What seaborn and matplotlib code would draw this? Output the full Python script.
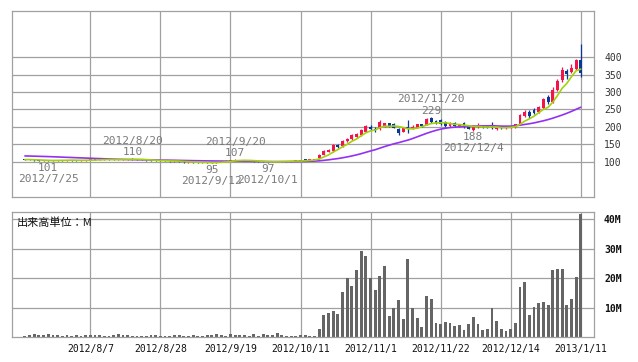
import numpy as np
import pandas as pd
import matplotlib
matplotlib.use("Agg")
import matplotlib.pyplot as plt
import seaborn as sns

# ── Data (trading days 2012/7/18 .. 2013/1/11) ──────────────────────────

OPENS = [
    108, 105, 106, 104, 103, 104, 102, 104, 105, 104,
    105, 104, 103, 104, 105, 106, 105, 106, 107, 106,
    105, 106, 107, 108, 107, 106, 105, 104, 103, 102,
    103, 102, 101, 102, 100, 98, 99, 98, 97, 98,
    97, 96, 99, 101, 103, 104, 105, 104, 103, 102,
    101, 100, 99, 98, 100, 101, 102, 101, 102, 103,
    106, 105, 106, 110, 120, 129, 131, 147, 144, 158,
    165, 170, 176, 186, 201, 195, 193, 203, 210, 209,
    195, 186, 201, 195, 198, 207, 205, 226, 218, 219,
    214, 203, 211, 203, 211, 204, 190, 199, 203, 200,
    201, 193, 201, 197, 199, 200, 208, 232, 243, 249,
    242, 255, 287, 272, 306, 335, 361, 359, 367, 391,
]
HIGHS = [
    109, 107, 107, 105, 105, 105, 105, 106, 106, 106,
    106, 105, 105, 106, 107, 107, 107, 108, 108, 107,
    107, 108, 109, 110, 108, 107, 106, 105, 104, 104,
    104, 103, 103, 103, 101, 100, 100, 99, 99, 99,
    98, 100, 102, 104, 105, 107, 106, 105, 104, 103,
    102, 101, 100, 101, 102, 103, 103, 103, 104, 104,
    108, 107, 108, 122, 134, 137, 150, 150, 163, 168,
    180, 183, 193, 206, 206, 199, 221, 212, 211, 212,
    196, 199, 220, 204, 209, 208, 226, 229, 220, 222,
    216, 215, 213, 209, 213, 205, 204, 210, 205, 202,
    214, 202, 203, 201, 203, 209, 236, 248, 249, 253,
    259, 283, 292, 314, 337, 373, 365, 382, 396, 437,
]
LOWS = [
    104, 104, 103, 102, 102, 101, 102, 103, 103, 103,
    103, 102, 102, 103, 104, 104, 104, 105, 105, 104,
    104, 105, 106, 106, 105, 104, 103, 102, 101, 101,
    101, 100, 100, 99, 97, 97, 97, 96, 96, 96,
    95, 96, 98, 100, 102, 103, 103, 102, 101, 100,
    99, 98, 97, 98, 99, 100, 100, 100, 101, 101,
    104, 104, 105, 109, 118, 127, 129, 140, 142, 156,
    163, 168, 174, 184, 192, 184, 191, 200, 199, 196,
    177, 184, 181, 193, 196, 200, 204, 212, 208, 206,
    200, 201, 200, 201, 198, 193, 188, 197, 198, 196,
    194, 191, 195, 195, 197, 198, 206, 229, 225, 236,
    240, 251, 266, 268, 303, 330, 339, 356, 363, 344,
]
CLOSES = [
    105, 106, 104, 103, 104, 102, 104, 105, 104, 105,
    104, 103, 104, 105, 106, 105, 106, 107, 106, 105,
    106, 107, 108, 107, 106, 105, 104, 103, 102, 103,
    102, 101, 102, 100, 98, 99, 98, 97, 98, 97,
    96, 99, 101, 103, 104, 105, 104, 103, 102, 101,
    100, 99, 98, 100, 101, 102, 101, 102, 103, 102,
    105, 106, 107, 119, 131, 134, 147, 143, 160, 166,
    177, 180, 190, 202, 194, 190, 213, 211, 201, 198,
    183, 197, 194, 201, 207, 203, 223, 214, 210, 209,
    203, 212, 203, 207, 200, 195, 201, 205, 199, 197,
    196, 200, 196, 199, 201, 207, 233, 243, 232, 239,
    257, 281, 272, 305, 333, 363, 351, 368, 392, 356,
]
MA5 = [
    106.0, 106.0, 105.5, 105.0, 104.4, 103.8, 103.4, 103.6, 103.8, 104.0,
    104.4, 104.2, 104.0, 104.2, 104.4, 104.6, 105.2, 105.8, 106.0, 105.8,
    106.0, 106.2, 106.4, 106.6, 106.8, 106.6, 106.0, 105.0, 104.0, 103.4,
    102.8, 102.2, 102.0, 101.6, 100.6, 100.0, 99.4, 98.4, 98.0, 97.8,
    97.2, 97.4, 98.2, 99.2, 100.6, 102.4, 103.4, 103.8, 103.6, 103.0,
    102.0, 101.0, 100.0, 99.6, 99.6, 100.0, 100.4, 101.2, 101.8, 102.0,
    102.6, 103.6, 104.6, 107.8, 113.6, 119.4, 127.6, 134.8, 143.0, 150.0,
    158.6, 165.2, 174.6, 183.0, 188.6, 191.2, 197.8, 202.0, 201.8, 202.6,
    201.2, 198.0, 194.6, 194.6, 196.4, 200.4, 205.6, 209.6, 211.4, 211.8,
    211.8, 209.6, 207.4, 206.8, 205.0, 203.4, 201.2, 201.6, 200.0, 199.4,
    199.6, 199.4, 197.6, 197.6, 198.4, 200.6, 207.2, 216.6, 223.2, 230.8,
    240.8, 250.4, 256.2, 270.8, 289.6, 310.8, 324.8, 344.0, 361.4, 366.0,
]
MA25 = [
    116.5, 116.2, 115.8, 115.4, 115.0, 114.6, 114.1, 113.6, 113.0, 112.5,
    112.0, 111.4, 110.9, 110.4, 109.9, 109.3, 108.8, 108.3, 107.8, 107.3,
    106.9, 106.5, 106.2, 105.9, 105.6, 105.4, 105.2, 105.0, 104.8, 104.6,
    104.4, 104.2, 104.0, 103.7, 103.4, 103.2, 102.9, 102.7, 102.5, 102.3,
    102.1, 101.9, 101.8, 101.6, 101.5, 101.3, 101.2, 101.0, 100.9, 100.8,
    100.6, 100.5, 100.4, 100.3, 100.3, 100.3, 100.3, 100.3, 100.4, 100.6,
    100.8, 101.2, 101.6, 102.4, 103.8, 105.3, 107.2, 108.9, 111.2, 113.6,
    116.5, 119.6, 123.0, 127.0, 130.8, 134.4, 138.9, 143.4, 147.5, 151.4,
    154.6, 158.4, 162.1, 166.5, 171.5, 176.5, 181.5, 186.0, 190.0, 193.5,
    196.0, 198.0, 199.3, 200.2, 200.9, 201.6, 202.4, 203.0, 202.9, 203.0,
    203.3, 202.8, 202.2, 202.1, 202.2, 203.5, 205.0, 207.0, 209.0, 211.5,
    214.5, 217.5, 221.0, 225.0, 229.5, 234.0, 239.0, 244.5, 250.5, 256.5,
]
VOLUME_M = [
    0.4, 0.6, 0.9, 0.6, 0.6, 0.9, 0.6, 0.6, 0.4, 0.6,
    0.4, 0.6, 0.4, 0.6, 0.7, 0.7, 0.7, 0.4, 0.4, 0.6,
    0.9, 0.7, 0.7, 0.4, 0.4, 0.4, 0.4, 0.7, 0.7, 0.4,
    0.4, 0.4, 0.6, 0.6, 0.4, 0.4, 0.6, 0.4, 0.4, 0.6,
    0.6, 0.9, 0.7, 0.4, 1.0, 0.6, 0.6, 0.6, 0.4, 0.9,
    0.4, 0.9, 0.7, 0.7, 1.3, 0.7, 0.4, 0.3, 0.3, 0.7,
    0.7, 0.4, 0.4, 2.7, 7.5, 8.0, 8.8, 7.8, 15.3, 20.0,
    17.3, 22.7, 29.2, 27.5, 20.0, 16.0, 20.8, 24.2, 7.1, 9.9,
    12.6, 6.1, 26.6, 9.9, 6.3, 3.4, 14.0, 12.8, 4.8, 4.4,
    5.1, 4.8, 3.75, 4.1, 2.4, 4.4, 6.8, 4.4, 2.4, 2.7,
    9.9, 5.5, 2.7, 2.0, 2.7, 4.8, 17.0, 18.8, 7.5, 10.2,
    11.6, 11.9, 10.9, 22.8, 23.2, 23.2, 10.9, 13.0, 20.5, 41.7,
]

TICK_POS = [14, 29, 44, 59, 74, 89, 104, 119]
TICK_LABELS = ["2012/8/7", "2012/8/28", "2012/9/19", "2012/10/11",
               "2012/11/1", "2012/11/22", "2012/12/14", "2013/1/11"]
PRICE_TICKS = [100, 150, 200, 250, 300, 350, 400]
VOL_TICKS = [10, 20, 30, 40]
VOL_TICK_LABELS = ["10M", "20M", "30M", "40M"]

# swing highs / lows printed on the chart
PIVOT_IDX = [5, 23, 40, 45, 52, 87, 96]
PIVOT_PRICE = [101, 110, 95, 107, 97, 229, 188]
PIVOT_DATE = ["2012/7/25", "2012/8/20", "2012/9/12", "2012/9/20",
              "2012/10/1", "2012/11/20", "2012/12/4"]
PIVOT_IS_HIGH = [False, True, False, True, False, True, False]

UP_COLOR = "#f5134b"
DOWN_COLOR = "#0a3796"
MA5_COLOR = "#a2d20a"
MA25_COLOR = "#9430f5"
VOL_COLOR = "#656565"
GRID_COLOR = "#a0a0a0"
LABEL_COLOR = "#7a7a7a"
MONO = "DejaVu Sans Mono"


def style_axes(ax):
    ax.set_axisbelow(True)
    ax.grid(True, color=GRID_COLOR, lw=0.9)
    for sp in ax.spines.values():
        sp.set_visible(True)
        sp.set_color(GRID_COLOR)
        sp.set_linewidth(0.9)
    ax.set_xlabel("")
    ax.set_ylabel("")


def main():
    sns.set_style("white")
    plt.rcParams["font.family"] = [MONO, "DejaVu Sans"]

    df = pd.DataFrame({
        "idx": np.arange(len(CLOSES)),
        "open": OPENS, "high": HIGHS, "low": LOWS, "close": CLOSES,
        "ma5": MA5, "ma25": MA25, "vol": VOLUME_M,
    })

    fig = plt.figure(figsize=(6.38, 3.62), dpi=100)
    ax = fig.add_axes([0.0193, 0.4550, 0.9122, 0.5154])
    axv = fig.add_axes([0.0193, 0.0691, 0.9122, 0.3444])

    # ── Price panel: candles + moving averages ──
    colors = np.where(df["close"] >= df["open"], UP_COLOR, DOWN_COLOR)
    ax.vlines(df["idx"], df["low"], df["high"], colors=colors, lw=0.9, zorder=2)
    body = (df["close"] - df["open"]).abs().clip(lower=1.5)
    ax.bar(df["idx"], body, bottom=df[["open", "close"]].min(axis=1),
           width=0.62, color=colors, linewidth=0, zorder=2)
    sns.lineplot(data=df, x="idx", y="ma25", ax=ax, color=MA25_COLOR, lw=1.2, zorder=3)
    sns.lineplot(data=df, x="idx", y="ma5", ax=ax, color=MA5_COLOR, lw=1.2, zorder=3)

    for i, p, d, hi in zip(PIVOT_IDX, PIVOT_PRICE, PIVOT_DATE, PIVOT_IS_HIGH):
        sign = 1 if hi else -1
        ax.annotate(str(p), (i, p), xytext=(0, sign * 4.5), textcoords="offset points",
                    ha="center", va="center", fontsize=8, color=LABEL_COLOR, family=MONO)
        ax.annotate(d, (i, p), xytext=(0, sign * 12.5), textcoords="offset points",
                    ha="center", va="center", fontsize=8, color=LABEL_COLOR, family=MONO)

    style_axes(ax)
    ax.set_xlim(-2.7, 121.9)
    ax.set_ylim(-2.4, 534)
    ax.set_xticks(TICK_POS)
    ax.set_yticks(PRICE_TICKS)
    ax.yaxis.tick_right()
    ax.tick_params(axis="x", labelbottom=False, length=0)
    ax.tick_params(axis="y", length=0, pad=7, labelsize=7, labelcolor="#333333")

    # ── Volume panel ──
    sns.barplot(data=df, x="idx", y="vol", native_scale=True, color=VOL_COLOR,
                saturation=1, width=0.62, errorbar=None, linewidth=0, ax=axv, zorder=2)
    style_axes(axv)
    axv.set_xlim(-2.7, 121.9)
    axv.set_ylim(0, 42.3)
    axv.set_xticks(TICK_POS)
    axv.set_xticklabels(TICK_LABELS)
    axv.set_yticks(VOL_TICKS)
    axv.set_yticklabels(VOL_TICK_LABELS)
    axv.yaxis.tick_right()
    axv.tick_params(axis="x", length=2, color=GRID_COLOR, pad=3, labelsize=7, labelcolor="#111111")
    axv.tick_params(axis="y", length=0, pad=7, labelsize=7, labelcolor="#111111")
    for lbl in axv.get_yticklabels():
        lbl.set_fontweight("bold")
    axv.text(0.007, 0.92, "出来高単位：M", transform=axv.transAxes, ha="left", va="center",
             fontsize=8, color="#111111", family=["Noto Sans CJK JP", "DejaVu Sans"])

    fig.savefig("out.png", dpi=100)
    plt.close(fig)


if __name__ == "__main__":
    main()
